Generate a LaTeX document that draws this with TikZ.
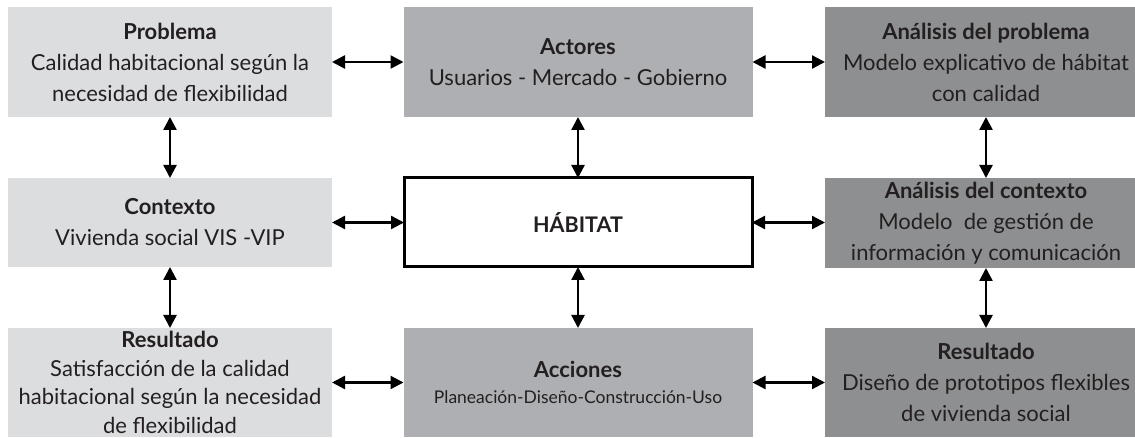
\documentclass[tikz,border=0pt]{standalone}
\usepackage{fontspec}
\setmainfont{Lato}
\usetikzlibrary{arrows.meta}
\definecolor{cLeft}{HTML}{DCDDDF}
\definecolor{cMid}{HTML}{ADAFB2}
\definecolor{cRight}{HTML}{8E8F91}
\definecolor{ink}{HTML}{231F20}
\tikzset{
  box/.style={rectangle, draw=none, outer sep=0pt, inner sep=0pt, align=center, text=ink,
    font=\fontsize{22}{31}\selectfont},
  lbox/.style={box, fill=cLeft, minimum width=324pt},
  mbox/.style={box, fill=cMid, minimum width=349pt},
  rbox/.style={box, fill=cRight, minimum width=322pt},
  hab/.style={rectangle, draw=black, line width=3pt, fill=white, outer sep=0pt, text=ink,
    minimum width=348pt, minimum height=89pt, font=\bfseries\fontsize{21.5}{26}\selectfont},
  link/.style={{Triangle[length=13pt,width=13pt]}-{Triangle[length=13pt,width=13pt]}, line width=2.3pt, black}
}
\begin{document}
\begin{tikzpicture}[x=1pt,y=-1pt]
\useasboundingbox (0,0) rectangle (1135,438);
\begin{scope}
\clip (0,0) rectangle (1135,438);
% row 1
\node[lbox, minimum height=110pt] (prob) at (170,62) {\textbf{Problema}\\Calidad habitacional según la\\necesidad de flexibilidad};
\node[mbox, minimum height=110pt] (act) at (578,62) {\textbf{Actores}\\Usuarios - Mercado - Gobierno};
\node[rbox, minimum height=110pt] (anp) at (986,62) {\textbf{Análisis del problema}\\Modelo explicativo de hábitat\\con calidad};
% row 2
\node[lbox, minimum height=89pt] (ctx) at (170,222.5) {\textbf{Contexto}\\Vivienda social VIS -VIP};
\node[hab] (hab) at (578,222.5) {HÁBITAT};
\node[rbox, minimum height=90pt] (anc) at (986,223) {\textbf{Análisis del contexto}\\Modelo\ \ de gestión de\\información y comunicación};
% row 3
\node[lbox, minimum height=109pt, font=\fontsize{22}{28.5}\selectfont] (resl) at (170,382.5) {\textbf{Resultado}\\Satisfacción de la calidad\\habitacional según la necesidad\\de flexibilidad};
\node[mbox, minimum height=109pt] (acc) at (578,382.5) {\textbf{Acciones}\\[-5pt]{\fontsize{17.5}{22}\selectfont Planeación-Diseño-Construcción-Uso}};
\node[rbox, minimum height=109pt] (resr) at (986,382.5) {\textbf{Resultado}\\Diseño de prototipos flexibles\\de vivienda social};
\end{scope}
% connectors
\draw[link] (prob.east) -- (act.west);
\draw[link] (act.east) -- (anp.west);
\draw[link] (ctx.east) -- (hab.west);
\draw[link] (hab.east) -- (anc.west |- hab.east);
\draw[link] (resl.east) -- (acc.west);
\draw[link] (acc.east) -- (resr.west);
\draw[link] (prob.south) -- (ctx.north);
\draw[link] (ctx.south) -- (resl.north);
\draw[link] (act.south) -- (hab.north);
\draw[link] (hab.south) -- (acc.north);
\draw[link] (anp.south) -- (anc.north);
\draw[link] (anc.south) -- (resr.north);
\end{tikzpicture}
\end{document}
